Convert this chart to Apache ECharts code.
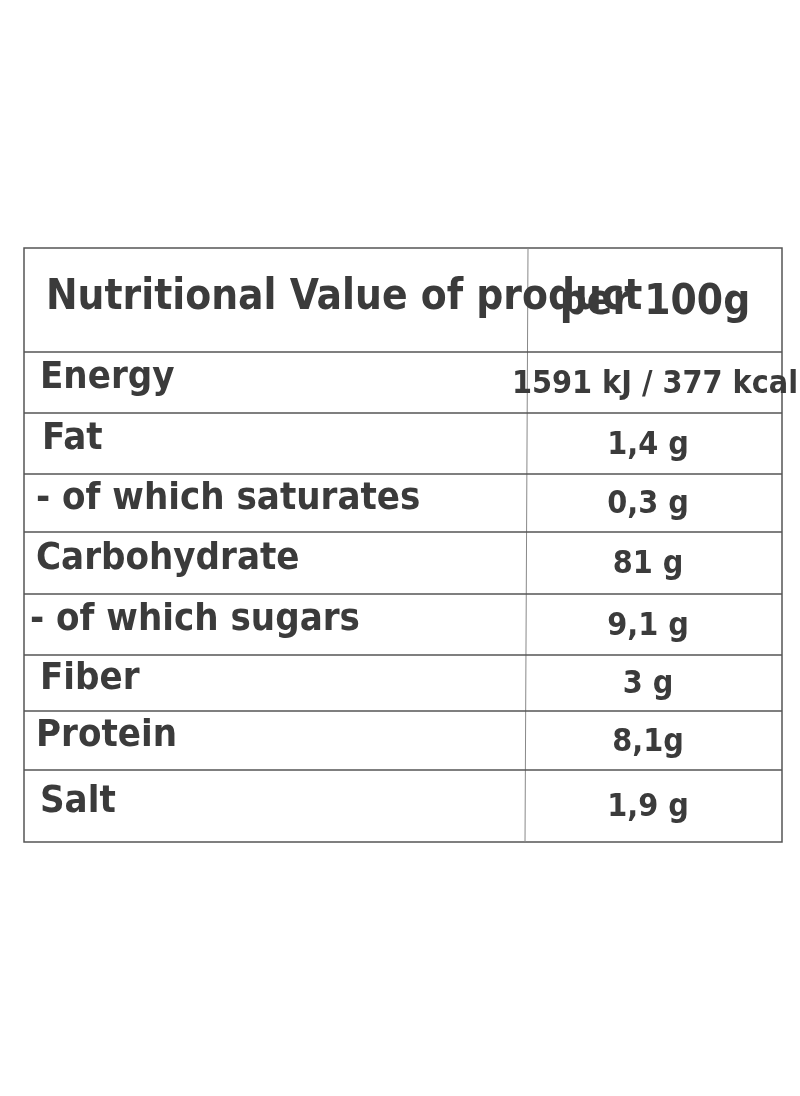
<!DOCTYPE html>
<html><head><meta charset="utf-8">
<script src="https://cdn.jsdelivr.net/npm/echarts@6/dist/echarts.min.js"></script>
<style>html,body{margin:0;background:#fff}#c{width:800px;height:1096px}</style>
</head><body><div id="c"></div>
<script>
const headerLabel = "Nutritional Value of product";
const headerValue = "per 100g";
const nutrients = ["Energy","Fat","- of which saturates","Carbohydrate","- of which sugars","Fiber","Protein","Salt"];
const amounts = ["1591 kJ / 377 kcal","1,4 g","0,3 g","81 g","9,1 g","3 g","8,1g","1,9 g"];

(function(){
const chart = echarts.init(document.getElementById('c'));
const tLeft = 24, tRight = 782, tTop = 248;
const rowBounds = [248, 352, 413, 474, 532, 594, 655, 711, 770, 842];
const font = '"Liberation Sans Narrow", "DejaVu Sans Condensed", sans-serif';
const color = '#3b3b3b';
const els = [];
els.push({type:'rect', shape:{x:tLeft,y:tTop,width:tRight-tLeft,height:rowBounds[rowBounds.length-1]-tTop},
  style:{fill:'none',stroke:'#555',lineWidth:1.5}});
els.push({type:'line', shape:{x1:528,y1:tTop,x2:525,y2:842}, style:{stroke:'#888',lineWidth:1}});
for (let i=1;i<rowBounds.length-1;i++)
  els.push({type:'line', shape:{x1:tLeft,y1:rowBounds[i],x2:tRight,y2:rowBounds[i]}, style:{stroke:'#555',lineWidth:1.5}});
function txt(s,x,y,size,align){
  els.push({type:'text', x:x, y:y, style:{text:s, font:'bold '+size+'px '+font, fill:color, align:align, verticalAlign:'middle'}});
}
txt(headerLabel, 46, 298, 42, 'left');
txt(headerValue, 655, 303, 42, 'center');
const labelX = [40,42,36,36,30,40,36,40];
nutrients.forEach((n,i)=>{
  const cy = (rowBounds[i+1]+rowBounds[i+2])/2;
  txt(n, labelX[i], cy-4, 38, 'left');
  txt(amounts[i], i===0?655:648, cy+2, 32, 'center');
});
chart.setOption({animation:false, graphic:{elements:els}});
})();
</script></body></html>
